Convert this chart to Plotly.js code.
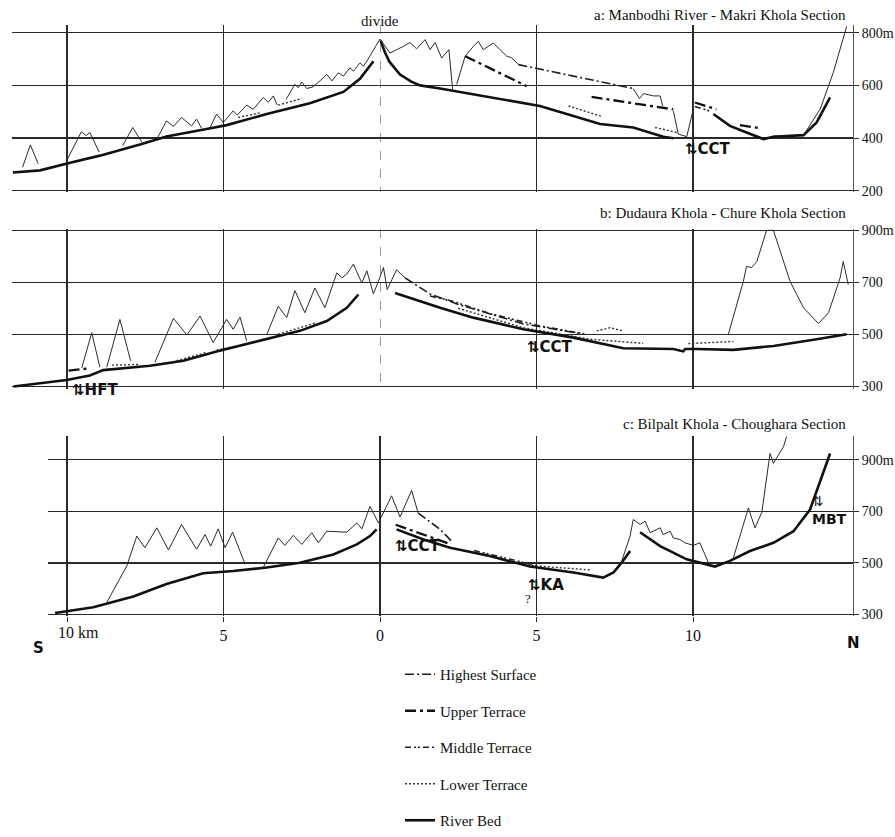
<!DOCTYPE html>
<html><head><meta charset="utf-8">
<script src="https://cdn.plot.ly/plotly-3.0.1.min.js"></script>
<style>html,body{margin:0;padding:0;background:#fff;overflow:hidden}#chart{position:fixed;left:0;top:0;width:895px}</style>
</head><body><div id="chart"></div>
<script>
// ---------------- DATA (km along section, elevation m) ----------------
// x tick positions / labels (south side labelled as positive distance)
const xTickVals = [-10, -5, 0, 5, 10];
const xTickText = ['', '5', '0', '5', '10'];
const xUnitLabel = '10 km';
const aTickVals = [200, 400, 600, 800];
const aTickText = ['200', '400', '600', '800m'];
const bcTickVals = [300, 500, 700, 900];
const bcTickText = ['300', '500', '700', '900m'];
const legendNames = ['Highest Surface', 'Upper Terrace', 'Middle Terrace', 'Lower Terrace', 'River Bed'];
const panelTitles = ['a: Manbodhi River - Makri Khola Section', 'b: Dudaura Khola - Chure Khola Section', 'c: Bilpalt Khola - Choughara Section'];

// Panel a
const aTopoX = [-11.42,-11.17,-10.92,null,-10.01,-9.54,-9.39,-9.27,-8.97,null,-8.22,-7.9,-7.61,null,-7.13,-6.82,-6.6,-6.34,-6.02,-5.86,-5.7,null,-5.43,-5.22,-5.01,-4.69,-4.56,-4.26,-4.05,-3.73,-3.57,-3.41,-3.28,null,-3.0,-2.72,-2.61,-2.5,-2.34,-2.13,-1.92,-1.7,-1.54,-1.33,-1.17,-0.96,-0.85,-0.64,-0.53,-0.42,0,0.32,0.74,0.96,1.17,1.44,1.6,1.76,1.97,2.06,2.2,2.32,null,2.45,2.72,2.98,3.14,3.3,3.62,3.83,4.05,4.21,4.42,null,8.09,8.29,8.42,8.73,8.95,9.03,null,9.37,9.53,9.8,10.01,null,13.53,14.06,14.48,14.91];
const aTopoY = [289,374,302,null,314,424,409,421,346,null,371,440,384,null,396,465,444,478,446,472,437,null,440,491,459,503,487,525,509,554,535,560,525,null,547,604,591,613,588,595,617,642,617,648,635,667,654,686,673,692,776,723,748,763,739,774,736,763,704,716,736,585,null,604,711,748,767,736,761,736,711,705,679,null,588,550,569,560,560,522,null,503,415,405,509,null,411,509,648,824];
const aRiverX = [-11.73,-10.86,-9.9,-8.95,-7.67,-6.82,-5.54,-4.9,-3.62,-2.24,-1.17,-0.64,-0.21,null,0.02,0.15,0.3,0.64,1.0,1.28,1.92,2.98,4.0,5.11,6.18,7.03,8.09,9.05,9.37,null,10.65,11.18,11.71,12.25,12.57,13.53,13.95,14.38];
const aRiverY = [269,277,306,333,375,406,434,449,491,532,575,625,692,null,770,728,690,641,614,600,588,566,545,522,484,453,440,405,399,null,491,446,421,396,405,411,459,554];
const aHighX = [4.42,8.09];
const aHighY = [679,588];
const aUpperX = [2.72,4.69,null,6.76,9.37,null,10.06,10.75,null,11.5,12.14];
const aUpperY = [711,597,null,556,509,null,535,509,null,449,437];
const aMidX = [10.06,10.6,null,12.57,13.2];
const aMidY = [520,500,null,406,408];
const aLowX = [-4.53,-3.78,null,-3.25,-2.5,null,6.02,7.08,null,8.79,9.48,null,11.71,12.04];
const aLowY = [478,497,null,525,550,null,522,482,null,440,421,null,421,406];

// Panel b
const bTopoX = [-9.53,-9.21,-8.95,null,-8.73,-8.31,-7.97,null,-7.19,-6.6,-6.17,-5.75,-5.33,-4.9,-4.69,-4.47,-4.26,null,-3.62,-3.25,-2.98,-2.72,-2.4,-2.08,-1.76,-1.38,-1.22,-1.06,-0.85,-0.58,-0.42,-0.21,-0.05,0.11,0.23,0.53,0.8,null,11.13,11.61,11.71,11.87,12.04,12.35,12.57,13.1,13.53,14.01,14.33,14.7,14.8,14.96];
const bTopoY = [370,506,373,null,373,557,398,null,392,561,497,570,468,557,519,566,475,null,498,608,564,668,583,678,602,736,717,732,770,697,744,655,704,757,672,748,717,null,500,704,761,757,780,900,900,704,602,541,583,717,780,691];
const bRiverX = [-11.71,-10.01,-9.27,-8.84,-7.35,-6.28,-5.22,-3.62,-2.56,-1.7,-1.06,-0.69,null,0.48,1.28,1.92,2.98,4.58,6.18,7.03,7.77,9.37,9.69,9.75,10.12,11.29,12.57,13.95,14.91];
const bRiverY = [299,324,341,362,379,398,434,481,513,551,602,653,null,659,628,602,564,519,487,464,446,443,434,443,443,440,455,481,500];
const bHighX = [0.8,1.6,2.5,4.58,6.39];
const bHighY = [717,655,615,540,503];
const bUpperX = [-9.95,-9.27];
const bUpperY = [360,369];
const bMidX = [1.6,2.24,3.5,5.11,6.6];
const bMidY = [647,630,580,532,500];
const bLowX = [-8.56,-7.67,null,-6.5,-5.54,null,-5.22,-4.58,null,-3.25,-2.02,null,2.5,4.58,6.71,8.41,null,6.92,7.35,7.77,null,9.85,11.29];
const bLowY = [381,384,null,398,430,null,439,455,null,500,545,null,600,525,481,465,null,513,525,513,null,464,472];

// Panel c
const cTopoX = [-8.73,-8.09,-7.77,-7.51,-7.13,-6.76,-6.34,-5.86,-5.59,-5.41,-5.17,-4.95,-4.71,-4.31,null,-3.73,-3.25,-3.04,-2.77,-2.5,-2.18,-1.97,-1.7,-1.06,-0.74,-0.58,-0.32,-0.05,0.37,0.64,1.01,1.22,null,7.67,7.99,8.09,8.31,8.47,8.63,8.95,9.05,9.27,9.37,9.58,9.74,10.01,10.22,10.38,10.49,null,11.29,11.77,11.98,12.2,12.46,12.57,12.89,13.15];
const cTopoY = [347,488,604,559,636,550,649,553,610,565,632,559,619,495,null,482,597,568,607,572,617,578,623,619,655,632,719,655,760,678,781,693,null,488,604,668,649,662,617,636,610,623,597,591,578,568,578,533,501,null,520,713,636,696,924,886,950,1053];
const cRiverX = [-10.38,-9.16,-7.88,-6.82,-5.65,-4.69,-3.62,-2.56,-1.49,-0.74,-0.32,-0.11,null,0.53,1.39,2.24,3.51,4.79,6.18,7.13,7.46,7.72,7.99,null,8.31,8.95,9.8,10.7,11.18,11.82,12.57,13.21,13.74,14.38];
const cRiverY = [306,328,370,418,460,469,482,501,533,572,604,630,null,630,591,559,527,486,463,443,463,501,546,null,619,565,514,486,508,546,578,623,707,924];
const cHighX = [1.22,1.92,2.34];
const cHighY = [693,630,578];
const cUpperX = [0.5,1.6,2.2];
const cUpperY = [648,602,575];
const cMidX = [3.0,5.0];
const cMidY = [548,490];
const cLowX = [2.98,4.79,6.71];
const cLowY = [540,490,473];

// ---------------- LAYOUT GEOMETRY ----------------
// positions below are given in reference-image pixels (895 x 837) and scaled to the actual viewport height
const W = 895, REF_H = 837;
const ih = window.innerHeight;
const H = (ih >= 800 && ih <= 900) ? ih : REF_H;
const SY = H / REF_H;
document.getElementById('chart').style.height = H + 'px';
const pxPerKm = 31.3, x0px = 380;
function xr(pxL, pxR){ return [(pxL - x0px)/pxPerKm, (pxR - x0px)/pxPerKm]; }
function yDom(lo, hi, v1, p1, v2, p2){
  const k = (p1 - p2)/(v2 - v1);
  const pb = p1 + (v1 - lo)*k, pt = p2 - (hi - v2)*k;
  return [(H - pb*SY)/H, (H - pt*SY)/H];
}
function px(x){ return x/W; }
function py(y){ return (H - y*SY)/H; }

const styles = {
  topo:  {color:'#2b2b2b', width:1},
  high:  {color:'#1e1e1e', width:1.6, dash:'9px,3px,2px,3px'},
  upper: {color:'#111', width:2.3, dash:'11px,4px,3px,4px'},
  mid:   {color:'#222', width:1.6, dash:'6px,3px,2px,2px,2px,3px'},
  low:   {color:'#333', width:1.4, dash:'2px,2px'},
  river: {color:'#111', width:2.6}
};

const panels = [
  {xa:'x', ya:'y', topo:[aTopoX,aTopoY], high:[aHighX,aHighY], upper:[aUpperX,aUpperY], mid:[aMidX,aMidY], low:[aLowX,aLowY], river:[aRiverX,aRiverY]},
  {xa:'x2', ya:'y2', topo:[bTopoX,bTopoY], high:[bHighX,bHighY], upper:[bUpperX,bUpperY], mid:[bMidX,bMidY], low:[bLowX,bLowY], river:[bRiverX,bRiverY]},
  {xa:'x3', ya:'y3', topo:[cTopoX,cTopoY], high:[cHighX,cHighY], upper:[cUpperX,cUpperY], mid:[cMidX,cMidY], low:[cLowX,cLowY], river:[cRiverX,cRiverY]}
];
const keys = ['high','upper','mid','low','river'];
const traces = [];
panels.forEach((p, i) => {
  keys.forEach((k, j) => {
    traces.push({type:'scatter', mode:'lines', x:p[k][0], y:p[k][1], xaxis:p.xa, yaxis:p.ya,
      line:styles[k], name:legendNames[j], legendgroup:'g'+j, showlegend:i===0, connectgaps:false, hoverinfo:'skip'});
  });
  traces.push({type:'scatter', mode:'lines', x:p.topo[0], y:p.topo[1], xaxis:p.xa, yaxis:p.ya,
    line:styles.topo, showlegend:false, connectgaps:false, hoverinfo:'skip'});
});

const serif = 'Liberation Serif, Times New Roman, serif';
const gridC = '#2a2a2a';
function xax(domPx, showLabels){
  const o = {domain:[px(domPx[0]), px(domPx[1])], range:xr(domPx[0], domPx[1]),
    zeroline:false, showline:false, fixedrange:true, tickfont:{family:serif, size:16, color:'#111'}};
  if (showLabels) {
    Object.assign(o, {tickvals:xTickVals, ticktext:xTickText, showgrid:true, gridcolor:gridC, gridwidth:1.3,
      showticklabels:true, ticks:'outside', ticklen:5, tickcolor:gridC});
  } else {
    Object.assign(o, {tickvals:[-10,-5,5,10], showgrid:true, gridcolor:gridC, gridwidth:1.3, showticklabels:false, ticks:'',
      minor:{tickvals:[0], showgrid:true, gridcolor:'#9a9a9a', gridwidth:1, griddash:'dash', ticks:''}});
  }
  return o;
}
function yax(anchor, dom, range, tv, tt){
  return {domain:dom, range:range, anchor:anchor, side:'right', tickvals:tv, ticktext:tt,
    showgrid:true, gridcolor:gridC, gridwidth:1.3, zeroline:false, showline:true, linecolor:'#555', linewidth:1,
    ticks:'outside', ticklen:5, tickcolor:gridC, tickfont:{family:serif, size:14, color:'#111'}, fixedrange:true};
}

const faultFont = {family:'DejaVu Sans, Liberation Sans, sans-serif', size:15, color:'#111', weight:'bold'};
function ann(text, x, y, font, xanchor){
  return {text:text, x:px(x), y:py(y), xref:'paper', yref:'paper', showarrow:false, font:font, xanchor:xanchor||'center', yanchor:'middle'};
}
const tFont = {family:serif, size:15, color:'#111'};
const annotations = [
  ann(panelTitles[0], 848, 15, tFont, 'right'),
  ann(panelTitles[1], 848, 215, tFont, 'right'),
  ann(panelTitles[2], 848, 427, tFont, 'right'),
  ann('divide', 380, 21, tFont),
  ann(xUnitLabel, 78, 637, {family:serif, size:16, color:'#111'}),
  ann('⇅<b>CCT</b>', 708, 150, faultFont),
  ann('⇅<b>CCT</b>', 550, 350, faultFont),
  ann('⇅<b>HFT</b>', 95, 393, faultFont),
  ann('⇅<b>CCT</b>', 418, 550, faultFont),
  ann('⇅<b>KA</b>', 546, 589, faultFont),
  ann('?', 528, 603, {family:serif, size:13, color:'#111'}),
  Object.assign(ann('⇅<br><b>MBT</b>', 810, 514, {family:'DejaVu Sans, Liberation Sans, sans-serif', size:14, color:'#111'}, 'left'), {align:'left'}),
  ann('<b>S</b>', 38, 653, {family:'DejaVu Sans, sans-serif', size:15, color:'#111'}),
  ann('<b>N</b>', 853, 648, {family:'DejaVu Sans, sans-serif', size:15, color:'#111'})
];

const layout = {
  width:W, height:H, margin:{l:0, r:0, t:0, b:0}, paper_bgcolor:'#fff', plot_bgcolor:'rgba(0,0,0,0)',
  xaxis: Object.assign(xax([12,853], false), {anchor:'y'}),
  xaxis2: Object.assign(xax([12,853], false), {anchor:'y2'}),
  xaxis3: Object.assign(xax([48,853], true), {anchor:'y3'}),
  yaxis: yax('x', yDom(195, 830, 200, 192, 800, 33), [195, 830], aTickVals, aTickText),
  yaxis2: yax('x2', yDom(290, 905, 300, 389, 900, 232), [290, 905], bcTickVals, bcTickText),
  yaxis3: yax('x3', yDom(295, 990, 300, 619, 900, 463), [295, 990], bcTickVals, bcTickText),
  showlegend:true,
  legend:{x:px(400), y:py(663), xanchor:'left', yanchor:'top', font:{family:serif, size:15, color:'#111'},
    tracegroupgap:14, bgcolor:'rgba(0,0,0,0)', borderwidth:0, traceorder:'grouped'},
  annotations:annotations
};
Plotly.newPlot('chart', traces, layout, {staticPlot:true, displayModeBar:false});
</script></body></html>
